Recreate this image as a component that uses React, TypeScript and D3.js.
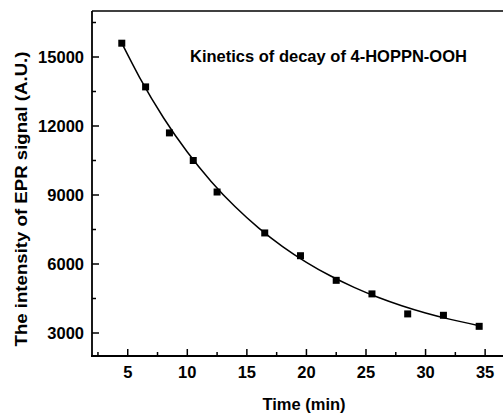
import React from "react";
import * as d3 from "d3";

const timeMin = [4.5, 6.5, 8.5, 10.5, 12.5, 16.5, 19.5, 22.5, 25.5, 28.5, 31.5, 34.5];
const intensity = [15600, 13700, 11700, 10500, 9130, 7350, 6360, 5290, 4700, 3830, 3770, 3290];

const fitTime = [4.5, 6, 8, 10, 12, 14, 16, 18, 20, 22, 24, 26, 28, 30, 32, 34.5];
const fitIntensity = [15600, 14105, 12359, 10867, 9590, 8497, 7561, 6760, 6075, 5488, 4986, 4555, 4187, 3872, 3603, 3319];

const xMajorTicks = [5, 10, 15, 20, 25, 30, 35];
const xMinorTicks = [2.5, 7.5, 12.5, 17.5, 22.5, 27.5, 32.5];
const yMajorTicks = [3000, 6000, 9000, 12000, 15000];
const yMinorTicks = [4500, 7500, 10500, 13500, 16500];

const W = 503;
const H = 413;
const FONT = "'Liberation Sans', Arial, sans-serif";

export default function App() {
  const x = d3.scaleLinear().domain([2, 36.5]).range([92, 503]);
  const y = d3.scaleLinear().domain([2000, 17000]).range([356, 11]);

  const line = d3
    .line<number>()
    .x((_, i) => x(fitTime[i]))
    .y((d) => y(d))
    .curve(d3.curveMonotoneX);

  const left = x(2);
  const bottom = y(2000);
  const top = y(17000);

  return (
    <svg
      width={W}
      height={H}
      style={{ position: "absolute", left: 0, top: 0, background: "#fff" }}
    >
      <rect x={0} y={0} width={W} height={H} fill="#fff" />
      {/* frame */}
      <line x1={left} x2={W + 5} y1={top} y2={top} stroke="#000" strokeWidth={1.5} />
      <line x1={left} x2={left} y1={top} y2={bottom} stroke="#000" strokeWidth={1.8} />
      <line x1={left - 1} x2={W + 5} y1={bottom} y2={bottom} stroke="#000" strokeWidth={2} />

      {/* x ticks */}
      {xMajorTicks.map((t) => (
        <g key={"xm" + t}>
          <line x1={x(t)} x2={x(t)} y1={bottom} y2={bottom - 7} stroke="#000" strokeWidth={1.5} />
          <text
            x={x(t)}
            y={378}
            textAnchor="middle"
            fontFamily={FONT}
            fontWeight="bold"
            fontSize={16.5}
            fill="#000"
          >
            {t}
          </text>
        </g>
      ))}
      {xMinorTicks.map((t) => (
        <line key={"xn" + t} x1={x(t)} x2={x(t)} y1={bottom} y2={bottom - 4} stroke="#000" strokeWidth={1.5} />
      ))}

      {/* y ticks */}
      {yMajorTicks.map((t) => (
        <g key={"ym" + t}>
          <line x1={left} x2={left + 7} y1={y(t)} y2={y(t)} stroke="#000" strokeWidth={1.5} />
          <text
            x={84}
            y={y(t)}
            dy="0.36em"
            textAnchor="end"
            fontFamily={FONT}
            fontWeight="bold"
            fontSize={16.5}
            fill="#000"
          >
            {t}
          </text>
        </g>
      ))}
      {yMinorTicks.map((t) => (
        <line key={"yn" + t} x1={left} x2={left + 4} y1={y(t)} y2={y(t)} stroke="#000" strokeWidth={1.5} />
      ))}

      {/* fit curve */}
      <path d={line(fitIntensity) || ""} fill="none" stroke="#000" strokeWidth={1.5} />

      {/* data points */}
      {intensity.map((v, i) => (
        <rect
          key={"p" + i}
          x={x(timeMin[i]) - 3.5}
          y={y(v) - 3.5}
          width={7}
          height={7}
          fill="#000"
        />
      ))}

      {/* annotation */}
      <text x={190} y={62} fontFamily={FONT} fontWeight="bold" fontSize={16.5} fill="#000">
        Kinetics of decay of 4-HOPPN-OOH
      </text>

      {/* axis titles */}
      <text
        x={304}
        y={410}
        textAnchor="middle"
        fontFamily={FONT}
        fontWeight="bold"
        fontSize={16.5}
        fill="#000"
      >
        Time (min)
      </text>
      <text
        transform={`translate(27,${199}) rotate(-90)`}
        textAnchor="middle"
        fontFamily={FONT}
        fontWeight="bold"
        fontSize={17}
        fill="#000"
        textLength={295}
        lengthAdjust="spacingAndGlyphs"
      >
        The intensity of EPR signal (A.U.)
      </text>
    </svg>
  );
}
